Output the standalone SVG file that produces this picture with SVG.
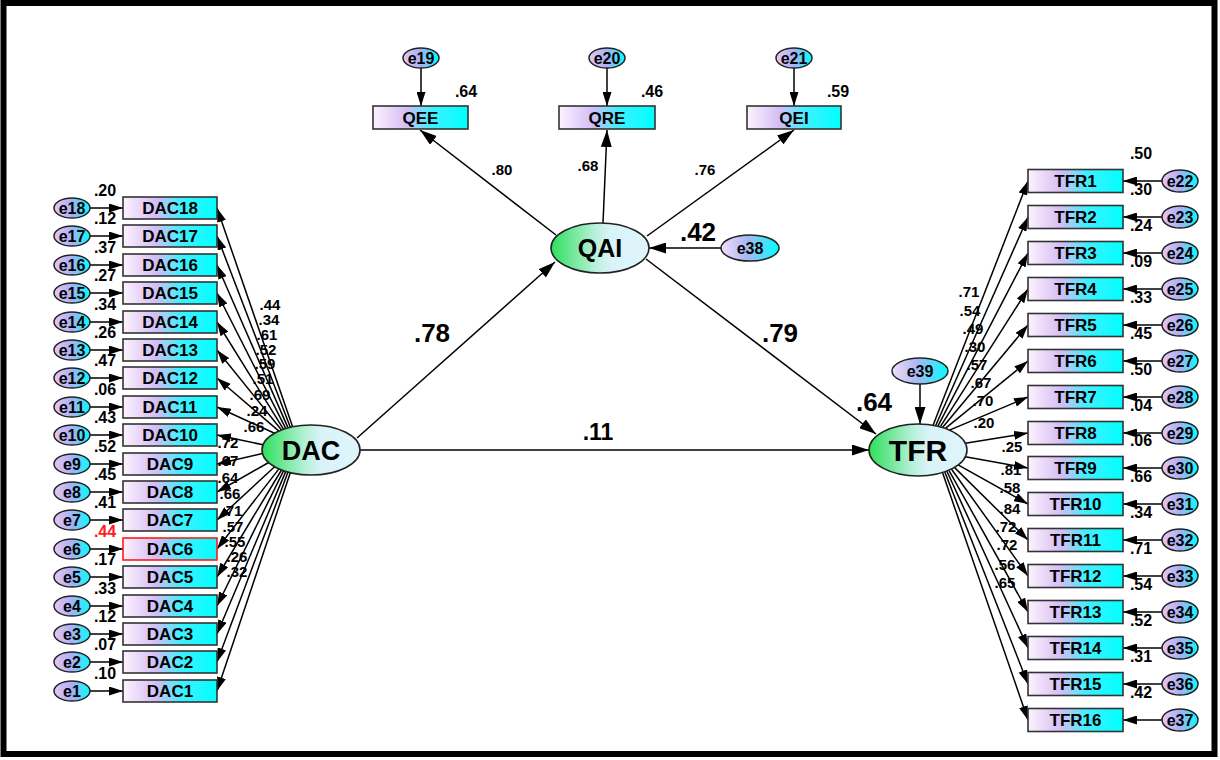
<svg xmlns="http://www.w3.org/2000/svg" width="1220" height="760" viewBox="0 0 1220 760">
<style>
text{font-family:"Liberation Sans",Arial,sans-serif;font-weight:bold;fill:#000;text-anchor:middle}
.box{fill:url(#gBox);stroke:#333;stroke-width:1.6}
.err{fill:url(#gErr);stroke:#222;stroke-width:1.5}
.lat{fill:url(#gLat);stroke:#222;stroke-width:1.6}
.bt{font-size:17px}
.et{font-size:16px}
.vl{font-size:16px}
.ll{font-size:15px}
.big{font-size:26px}
.c line,.c path{stroke:#000;stroke-width:1.5;fill:none}
.a{marker-end:url(#ah)}
.A{marker-end:url(#ahB)}
</style>
<defs>
<linearGradient id="gBox" x1="0" y1="0" x2="1" y2="0">
<stop offset="0" stop-color="#fdf2fd"/>
<stop offset="0.35" stop-color="#d4bdf5"/>
<stop offset="0.62" stop-color="#3ef0ff"/>
<stop offset="1" stop-color="#00ffff"/>
</linearGradient>
<linearGradient id="gErr" x1="0" y1="0" x2="1" y2="0">
<stop offset="0" stop-color="#e8c6f4"/>
<stop offset="0.5" stop-color="#a8b0f4"/>
<stop offset="1" stop-color="#00ffff"/>
</linearGradient>
<linearGradient id="gErr2" x1="0" y1="0" x2="1" y2="0">
<stop offset="0" stop-color="#f4dcf8"/>
<stop offset="0.45" stop-color="#a8b8f4"/>
<stop offset="1" stop-color="#00ffff"/>
</linearGradient>
<linearGradient id="gLat" x1="0" y1="0" x2="1" y2="0">
<stop offset="0" stop-color="#2ee05a"/>
<stop offset="0.45" stop-color="#b8f0da"/>
<stop offset="0.6" stop-color="#d8f3f8"/>
<stop offset="1" stop-color="#e0f5fb"/>
</linearGradient>
<marker id="ah" viewBox="0 0 14 9" refX="14" refY="4.5" markerWidth="14" markerHeight="9" markerUnits="userSpaceOnUse" orient="auto">
<path d="M0,0 L14,4.5 L0,9 z" fill="#000"/>
</marker>
<marker id="ahB" viewBox="0 0 17 11" refX="17" refY="5.5" markerWidth="17" markerHeight="11" markerUnits="userSpaceOnUse" orient="auto">
<path d="M0,0 L17,5.5 L0,11 z" fill="#000"/>
</marker>
</defs>
<rect x="0" y="0" width="1220" height="760" fill="#fff"/>
<rect x="3.5" y="3" width="1211" height="751" fill="none" stroke="#000" stroke-width="6"/>

<g id="connectors" class="c">
<line class="A" x1="357" y1="438" x2="555" y2="262"/>
<line class="A" x1="360" y1="450" x2="869" y2="450"/>
<line class="A" x1="646" y1="259" x2="876" y2="434"/>
<line class="A" x1="721" y1="248" x2="649" y2="248"/>
<line class="A" x1="920" y1="384" x2="920" y2="424"/>
<line class="A" x1="556" y1="235" x2="420" y2="130"/>
<line class="A" x1="603" y1="223" x2="607" y2="130"/>
<line class="A" x1="647" y1="236" x2="794" y2="130"/>
<line class="a" x1="421" y1="68" x2="421" y2="106"/>
<line class="a" x1="607" y1="68" x2="607" y2="106"/>
<line class="a" x1="794" y1="68" x2="794" y2="106"/>
<line class="a" x1="292.6" y1="426.8" x2="217" y2="208"/>
<line class="a" x1="290.3" y1="427.3" x2="217" y2="236"/>
<line class="a" x1="288" y1="427.9" x2="217" y2="265"/>
<line class="a" x1="285.8" y1="428.6" x2="217" y2="293"/>
<line class="a" x1="283.6" y1="429.3" x2="217" y2="322"/>
<line class="a" x1="281.5" y1="430" x2="217" y2="350"/>
<line class="a" x1="278.9" y1="431.1" x2="217" y2="378"/>
<line class="a" x1="274.6" y1="433.3" x2="217" y2="407"/>
<line class="a" x1="263.1" y1="444.8" x2="217" y2="435"/>
<line class="a" x1="262.5" y1="453.5" x2="217" y2="464"/>
<line class="a" x1="268.6" y1="462.5" x2="217" y2="492"/>
<line class="a" x1="274.6" y1="466.7" x2="217" y2="520"/>
<line class="a" x1="278.9" y1="468.9" x2="217" y2="549"/>
<line class="a" x1="281.5" y1="470" x2="217" y2="577"/>
<line class="a" x1="283.6" y1="470.7" x2="217" y2="606"/>
<line class="a" x1="285.8" y1="471.4" x2="217" y2="634"/>
<line class="a" x1="288" y1="472.1" x2="217" y2="662"/>
<line class="a" x1="290.3" y1="472.7" x2="217" y2="691"/>
<line class="a" x1="90" y1="208" x2="123" y2="208"/>
<line class="a" x1="90" y1="236" x2="123" y2="236"/>
<line class="a" x1="90" y1="265" x2="123" y2="265"/>
<line class="a" x1="90" y1="293" x2="123" y2="293"/>
<line class="a" x1="90" y1="322" x2="123" y2="322"/>
<line class="a" x1="90" y1="350" x2="123" y2="350"/>
<line class="a" x1="90" y1="378" x2="123" y2="378"/>
<line class="a" x1="90" y1="407" x2="123" y2="407"/>
<line class="a" x1="90" y1="435" x2="123" y2="435"/>
<line class="a" x1="90" y1="464" x2="123" y2="464"/>
<line class="a" x1="90" y1="492" x2="123" y2="492"/>
<line class="a" x1="90" y1="520" x2="123" y2="520"/>
<line class="a" x1="90" y1="549" x2="123" y2="549"/>
<line class="a" x1="90" y1="577" x2="123" y2="577"/>
<line class="a" x1="90" y1="606" x2="123" y2="606"/>
<line class="a" x1="90" y1="634" x2="123" y2="634"/>
<line class="a" x1="90" y1="662" x2="123" y2="662"/>
<line class="a" x1="90" y1="691" x2="123" y2="691"/>
<line class="a" x1="933.1" y1="425.3" x2="1028" y2="181"/>
<line class="a" x1="935.6" y1="425.7" x2="1028" y2="217"/>
<line class="a" x1="937.9" y1="426.2" x2="1028" y2="253"/>
<line class="a" x1="940.2" y1="426.8" x2="1028" y2="289"/>
<line class="a" x1="942.5" y1="427.5" x2="1028" y2="325"/>
<line class="a" x1="945.4" y1="428.4" x2="1028" y2="361"/>
<line class="a" x1="949.5" y1="430.1" x2="1028" y2="397"/>
<line class="a" x1="965.3" y1="443.3" x2="1028" y2="433"/>
<line class="a" x1="965.3" y1="456.7" x2="1028" y2="468"/>
<line class="a" x1="958.1" y1="464.9" x2="1028" y2="504"/>
<line class="a" x1="954.4" y1="467.4" x2="1028" y2="540"/>
<line class="a" x1="951.4" y1="469" x2="1028" y2="576"/>
<line class="a" x1="948.8" y1="470.2" x2="1028" y2="612"/>
<line class="a" x1="946.8" y1="471" x2="1028" y2="648"/>
<line class="a" x1="944.7" y1="471.8" x2="1028" y2="684"/>
<line class="a" x1="942.5" y1="472.5" x2="1028" y2="720"/>
<line class="a" x1="1162" y1="181" x2="1123" y2="181"/>
<line class="a" x1="1162" y1="217" x2="1123" y2="217"/>
<line class="a" x1="1162" y1="253" x2="1123" y2="253"/>
<line class="a" x1="1162" y1="289" x2="1123" y2="289"/>
<line class="a" x1="1162" y1="325" x2="1123" y2="325"/>
<line class="a" x1="1162" y1="361" x2="1123" y2="361"/>
<line class="a" x1="1162" y1="397" x2="1123" y2="397"/>
<line class="a" x1="1162" y1="433" x2="1123" y2="433"/>
<line class="a" x1="1162" y1="468" x2="1123" y2="468"/>
<line class="a" x1="1162" y1="504" x2="1123" y2="504"/>
<line class="a" x1="1162" y1="540" x2="1123" y2="540"/>
<line class="a" x1="1162" y1="576" x2="1123" y2="576"/>
<line class="a" x1="1162" y1="612" x2="1123" y2="612"/>
<line class="a" x1="1162" y1="648" x2="1123" y2="648"/>
<line class="a" x1="1162" y1="684" x2="1123" y2="684"/>
<line class="a" x1="1162" y1="720" x2="1123" y2="720"/>
</g>

<g id="DAC"><ellipse class="lat" cx="311" cy="450" rx="49" ry="25"/><text x="311" y="460" style="font-size:27px">DAC</text></g>
<g id="QAI"><ellipse class="lat" cx="600" cy="248" rx="49" ry="25"/><text x="600" y="257" style="font-size:25px">QAI</text></g>
<g id="TFR"><ellipse class="lat" cx="918" cy="450" rx="49" ry="26"/><text x="918" y="461" style="font-size:30px">TFR</text></g>
<g id="e38"><ellipse cx="750" cy="248" rx="29" ry="13" fill="url(#gErr2)" stroke="#222" stroke-width="1.5"/><text class="et" x="750" y="254">e38</text></g>
<g id="e39"><ellipse cx="920" cy="371" rx="28" ry="13" fill="url(#gErr2)" stroke="#222" stroke-width="1.5"/><text class="et" x="920" y="377">e39</text></g>

<g id="QEE"><rect class="box" x="373" y="106" width="95" height="23"/><text class="bt" x="420.5" y="123.5">QEE</text></g>
<g id="QRE"><rect class="box" x="559" y="106" width="96" height="23"/><text class="bt" x="607" y="123.5">QRE</text></g>
<g id="QEI"><rect class="box" x="747" y="106" width="94" height="23"/><text class="bt" x="794" y="123.5">QEI</text></g>
<g id="e19"><ellipse class="err" cx="421" cy="58" rx="18" ry="10"/><text class="et" x="421" y="64">e19</text></g>
<g id="e20"><ellipse class="err" cx="607" cy="58" rx="18" ry="10"/><text class="et" x="607" y="64">e20</text></g>
<g id="e21"><ellipse class="err" cx="794" cy="58" rx="18" ry="10"/><text class="et" x="794" y="64">e21</text></g>

<g id="DAC18"><rect class="box" x="123" y="197" width="94" height="22"/><text class="bt" x="170" y="214">DAC18</text></g>
<g id="DAC17"><rect class="box" x="123" y="225" width="94" height="22"/><text class="bt" x="170" y="242">DAC17</text></g>
<g id="DAC16"><rect class="box" x="123" y="254" width="94" height="22"/><text class="bt" x="170" y="271">DAC16</text></g>
<g id="DAC15"><rect class="box" x="123" y="282" width="94" height="22"/><text class="bt" x="170" y="299">DAC15</text></g>
<g id="DAC14"><rect class="box" x="123" y="311" width="94" height="22"/><text class="bt" x="170" y="328">DAC14</text></g>
<g id="DAC13"><rect class="box" x="123" y="339" width="94" height="22"/><text class="bt" x="170" y="356">DAC13</text></g>
<g id="DAC12"><rect class="box" x="123" y="367" width="94" height="22"/><text class="bt" x="170" y="384">DAC12</text></g>
<g id="DAC11"><rect class="box" x="123" y="396" width="94" height="22"/><text class="bt" x="170" y="413">DAC11</text></g>
<g id="DAC10"><rect class="box" x="123" y="424" width="94" height="22"/><text class="bt" x="170" y="441">DAC10</text></g>
<g id="DAC9"><rect class="box" x="123" y="453" width="94" height="22"/><text class="bt" x="170" y="470">DAC9</text></g>
<g id="DAC8"><rect class="box" x="123" y="481" width="94" height="22"/><text class="bt" x="170" y="498">DAC8</text></g>
<g id="DAC7"><rect class="box" x="123" y="509" width="94" height="22"/><text class="bt" x="170" y="526">DAC7</text></g>
<g id="DAC6"><rect class="box" x="123" y="538" width="94" height="22" style="stroke:#ff1a1a"/><text class="bt" x="170" y="555">DAC6</text></g>
<g id="DAC5"><rect class="box" x="123" y="566" width="94" height="22"/><text class="bt" x="170" y="583">DAC5</text></g>
<g id="DAC4"><rect class="box" x="123" y="595" width="94" height="22"/><text class="bt" x="170" y="612">DAC4</text></g>
<g id="DAC3"><rect class="box" x="123" y="623" width="94" height="22"/><text class="bt" x="170" y="640">DAC3</text></g>
<g id="DAC2"><rect class="box" x="123" y="651" width="94" height="22"/><text class="bt" x="170" y="668">DAC2</text></g>
<g id="DAC1"><rect class="box" x="123" y="680" width="94" height="22"/><text class="bt" x="170" y="697">DAC1</text></g>

<g id="e18"><ellipse class="err" cx="72" cy="208" rx="18" ry="10"/><text class="et" x="72" y="214">e18</text></g>
<g id="e17"><ellipse class="err" cx="72" cy="236" rx="18" ry="10"/><text class="et" x="72" y="242">e17</text></g>
<g id="e16"><ellipse class="err" cx="72" cy="265" rx="18" ry="10"/><text class="et" x="72" y="271">e16</text></g>
<g id="e15"><ellipse class="err" cx="72" cy="293" rx="18" ry="10"/><text class="et" x="72" y="299">e15</text></g>
<g id="e14"><ellipse class="err" cx="72" cy="322" rx="18" ry="10"/><text class="et" x="72" y="328">e14</text></g>
<g id="e13"><ellipse class="err" cx="72" cy="350" rx="18" ry="10"/><text class="et" x="72" y="356">e13</text></g>
<g id="e12"><ellipse class="err" cx="72" cy="378" rx="18" ry="10"/><text class="et" x="72" y="384">e12</text></g>
<g id="e11"><ellipse class="err" cx="72" cy="407" rx="18" ry="10"/><text class="et" x="72" y="413">e11</text></g>
<g id="e10"><ellipse class="err" cx="72" cy="435" rx="18" ry="10"/><text class="et" x="72" y="441">e10</text></g>
<g id="e9"><ellipse class="err" cx="72" cy="464" rx="18" ry="10"/><text class="et" x="72" y="470">e9</text></g>
<g id="e8"><ellipse class="err" cx="72" cy="492" rx="18" ry="10"/><text class="et" x="72" y="498">e8</text></g>
<g id="e7"><ellipse class="err" cx="72" cy="520" rx="18" ry="10"/><text class="et" x="72" y="526">e7</text></g>
<g id="e6"><ellipse class="err" cx="72" cy="549" rx="18" ry="10"/><text class="et" x="72" y="555">e6</text></g>
<g id="e5"><ellipse class="err" cx="72" cy="577" rx="18" ry="10"/><text class="et" x="72" y="583">e5</text></g>
<g id="e4"><ellipse class="err" cx="72" cy="606" rx="18" ry="10"/><text class="et" x="72" y="612">e4</text></g>
<g id="e3"><ellipse class="err" cx="72" cy="634" rx="18" ry="10"/><text class="et" x="72" y="640">e3</text></g>
<g id="e2"><ellipse class="err" cx="72" cy="662" rx="18" ry="10"/><text class="et" x="72" y="668">e2</text></g>
<g id="e1"><ellipse class="err" cx="72" cy="691" rx="18" ry="10"/><text class="et" x="72" y="697">e1</text></g>

<g id="TFR1"><rect class="box" x="1028" y="169.5" width="95" height="23"/><text class="bt" x="1075.5" y="187">TFR1</text></g>
<g id="TFR2"><rect class="box" x="1028" y="205.5" width="95" height="23"/><text class="bt" x="1075.5" y="223">TFR2</text></g>
<g id="TFR3"><rect class="box" x="1028" y="241.5" width="95" height="23"/><text class="bt" x="1075.5" y="259">TFR3</text></g>
<g id="TFR4"><rect class="box" x="1028" y="277.5" width="95" height="23"/><text class="bt" x="1075.5" y="295">TFR4</text></g>
<g id="TFR5"><rect class="box" x="1028" y="313.5" width="95" height="23"/><text class="bt" x="1075.5" y="331">TFR5</text></g>
<g id="TFR6"><rect class="box" x="1028" y="349.5" width="95" height="23"/><text class="bt" x="1075.5" y="367">TFR6</text></g>
<g id="TFR7"><rect class="box" x="1028" y="385.5" width="95" height="23"/><text class="bt" x="1075.5" y="403">TFR7</text></g>
<g id="TFR8"><rect class="box" x="1028" y="421.5" width="95" height="23"/><text class="bt" x="1075.5" y="439">TFR8</text></g>
<g id="TFR9"><rect class="box" x="1028" y="456.5" width="95" height="23"/><text class="bt" x="1075.5" y="474">TFR9</text></g>
<g id="TFR10"><rect class="box" x="1028" y="492.5" width="95" height="23"/><text class="bt" x="1075.5" y="510">TFR10</text></g>
<g id="TFR11"><rect class="box" x="1028" y="528.5" width="95" height="23"/><text class="bt" x="1075.5" y="546">TFR11</text></g>
<g id="TFR12"><rect class="box" x="1028" y="564.5" width="95" height="23"/><text class="bt" x="1075.5" y="582">TFR12</text></g>
<g id="TFR13"><rect class="box" x="1028" y="600.5" width="95" height="23"/><text class="bt" x="1075.5" y="618">TFR13</text></g>
<g id="TFR14"><rect class="box" x="1028" y="636.5" width="95" height="23"/><text class="bt" x="1075.5" y="654">TFR14</text></g>
<g id="TFR15"><rect class="box" x="1028" y="672.5" width="95" height="23"/><text class="bt" x="1075.5" y="690">TFR15</text></g>
<g id="TFR16"><rect class="box" x="1028" y="708.5" width="95" height="23"/><text class="bt" x="1075.5" y="726">TFR16</text></g>

<g id="e22"><ellipse class="err" cx="1180" cy="181" rx="18" ry="11"/><text class="et" x="1180" y="187">e22</text></g>
<g id="e23"><ellipse class="err" cx="1180" cy="217" rx="18" ry="11"/><text class="et" x="1180" y="223">e23</text></g>
<g id="e24"><ellipse class="err" cx="1180" cy="253" rx="18" ry="11"/><text class="et" x="1180" y="259">e24</text></g>
<g id="e25"><ellipse class="err" cx="1180" cy="289" rx="18" ry="11"/><text class="et" x="1180" y="295">e25</text></g>
<g id="e26"><ellipse class="err" cx="1180" cy="325" rx="18" ry="11"/><text class="et" x="1180" y="331">e26</text></g>
<g id="e27"><ellipse class="err" cx="1180" cy="361" rx="18" ry="11"/><text class="et" x="1180" y="367">e27</text></g>
<g id="e28"><ellipse class="err" cx="1180" cy="397" rx="18" ry="11"/><text class="et" x="1180" y="403">e28</text></g>
<g id="e29"><ellipse class="err" cx="1180" cy="433" rx="18" ry="11"/><text class="et" x="1180" y="439">e29</text></g>
<g id="e30"><ellipse class="err" cx="1180" cy="468" rx="18" ry="11"/><text class="et" x="1180" y="474">e30</text></g>
<g id="e31"><ellipse class="err" cx="1180" cy="504" rx="18" ry="11"/><text class="et" x="1180" y="510">e31</text></g>
<g id="e32"><ellipse class="err" cx="1180" cy="540" rx="18" ry="11"/><text class="et" x="1180" y="546">e32</text></g>
<g id="e33"><ellipse class="err" cx="1180" cy="576" rx="18" ry="11"/><text class="et" x="1180" y="582">e33</text></g>
<g id="e34"><ellipse class="err" cx="1180" cy="612" rx="18" ry="11"/><text class="et" x="1180" y="618">e34</text></g>
<g id="e35"><ellipse class="err" cx="1180" cy="648" rx="18" ry="11"/><text class="et" x="1180" y="654">e35</text></g>
<g id="e36"><ellipse class="err" cx="1180" cy="684" rx="18" ry="11"/><text class="et" x="1180" y="690">e36</text></g>
<g id="e37"><ellipse class="err" cx="1180" cy="720" rx="18" ry="11"/><text class="et" x="1180" y="726">e37</text></g>

<g id="labels">
<text class="big" x="432" y="342">.78</text>
<text class="big" x="780" y="342">.79</text>
<text x="598" y="440" style="font-size:23px">.11</text>
<text class="big" x="698" y="241">.42</text>
<text class="big" x="874" y="411">.64</text>
<text class="vl" x="466" y="97">.64</text>
<text class="vl" x="652" y="97">.46</text>
<text class="vl" x="838" y="97">.59</text>
<text class="ll" x="502" y="175">.80</text>
<text class="ll" x="588" y="171">.68</text>
<text class="ll" x="705" y="175">.76</text>
<text class="vl" x="105" y="196">.20</text>
<text class="vl" x="105" y="224">.12</text>
<text class="vl" x="105" y="253">.37</text>
<text class="vl" x="105" y="281">.27</text>
<text class="vl" x="105" y="310">.34</text>
<text class="vl" x="105" y="338">.26</text>
<text class="vl" x="105" y="366">.47</text>
<text class="vl" x="105" y="395">.06</text>
<text class="vl" x="105" y="423">.43</text>
<text class="vl" x="105" y="452">.52</text>
<text class="vl" x="105" y="480">.45</text>
<text class="vl" x="105" y="508">.41</text>
<text class="vl" x="105" y="537" style="fill:#ff1a1a">.44</text>
<text class="vl" x="105" y="565">.17</text>
<text class="vl" x="105" y="594">.33</text>
<text class="vl" x="105" y="622">.12</text>
<text class="vl" x="105" y="650">.07</text>
<text class="vl" x="105" y="679">.10</text>
<text class="ll" x="270" y="310">.44</text>
<text class="ll" x="269" y="325">.34</text>
<text class="ll" x="267" y="340">.61</text>
<text class="ll" x="266" y="355">.52</text>
<text class="ll" x="265" y="369">.59</text>
<text class="ll" x="263" y="384">.51</text>
<text class="ll" x="260" y="400">.69</text>
<text class="ll" x="257" y="416">.24</text>
<text class="ll" x="254" y="432">.66</text>
<text class="ll" x="228" y="448">.72</text>
<text class="ll" x="228" y="466">.67</text>
<text class="ll" x="228" y="483">.64</text>
<text class="ll" x="230" y="499">.66</text>
<text class="ll" x="232" y="516">.71</text>
<text class="ll" x="233" y="532">.57</text>
<text class="ll" x="235" y="547">.55</text>
<text class="ll" x="237" y="562">.26</text>
<text class="ll" x="237" y="577">.32</text>
<text class="vl" x="1141" y="159">.50</text>
<text class="vl" x="1141" y="195">.30</text>
<text class="vl" x="1141" y="231">.24</text>
<text class="vl" x="1141" y="267">.09</text>
<text class="vl" x="1141" y="303">.33</text>
<text class="vl" x="1141" y="339">.45</text>
<text class="vl" x="1141" y="375">.50</text>
<text class="vl" x="1141" y="411">.04</text>
<text class="vl" x="1141" y="446">.06</text>
<text class="vl" x="1141" y="482">.66</text>
<text class="vl" x="1141" y="518">.34</text>
<text class="vl" x="1141" y="554">.71</text>
<text class="vl" x="1141" y="590">.54</text>
<text class="vl" x="1141" y="626">.52</text>
<text class="vl" x="1141" y="662">.31</text>
<text class="vl" x="1141" y="698">.42</text>
<text class="ll" x="969" y="297">.71</text>
<text class="ll" x="970" y="316">.54</text>
<text class="ll" x="973" y="334">.49</text>
<text class="ll" x="975" y="352">.30</text>
<text class="ll" x="977" y="370">.57</text>
<text class="ll" x="981" y="388">.67</text>
<text class="ll" x="983" y="406">.70</text>
<text class="ll" x="984" y="428">.20</text>
<text class="ll" x="1012" y="452">.25</text>
<text class="ll" x="1011" y="475">.81</text>
<text class="ll" x="1010" y="493">.58</text>
<text class="ll" x="1010" y="514">.84</text>
<text class="ll" x="1006" y="532">.72</text>
<text class="ll" x="1007" y="550">.72</text>
<text class="ll" x="1005" y="570">.56</text>
<text class="ll" x="1005" y="588">.65</text>
</g>
</svg>
